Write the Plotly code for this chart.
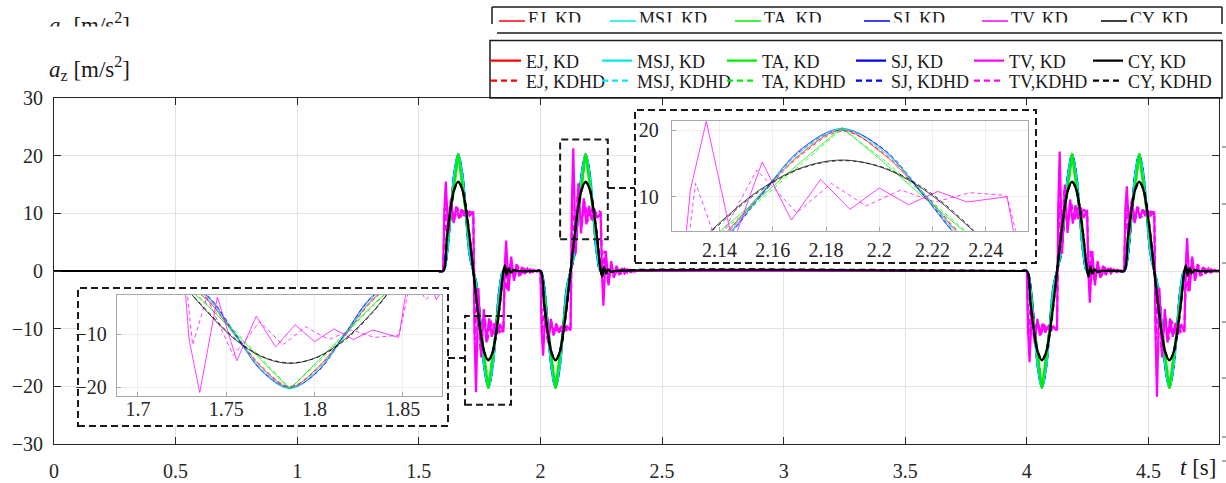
import plotly.graph_objects as go

# ---------------- data ----------------
t_motion = [0, 1.58,
            1.6, 1.6155, 1.631, 1.6465, 1.662, 1.6775, 1.693, 1.7085,
            1.724, 1.7395, 1.755, 1.7705, 1.786, 1.8015, 1.817, 1.8325,
            1.848, 1.868, 1.98,
            2.0, 2.0155, 2.031, 2.0465, 2.062, 2.0775, 2.093, 2.1085,
            2.124, 2.1395, 2.155, 2.1705, 2.186, 2.2015, 2.217, 2.2325,
            2.248, 2.268, 3.98,
            4.0, 4.0155, 4.031, 4.0465, 4.062, 4.0775, 4.093, 4.1085,
            4.124, 4.1395, 4.155, 4.1705, 4.186, 4.2015, 4.217, 4.2325,
            4.248, 4.268, 4.38,
            4.4, 4.4155, 4.431, 4.4465, 4.462, 4.4775, 4.493, 4.5085,
            4.524, 4.5395, 4.555, 4.5705, 4.586, 4.6015, 4.617, 4.6325,
            4.648, 4.668, 4.79]

sj_kd = [0, 0,
         0, 2.9, 10.0, 17.1, 20.2, 17.1, 10.0, 2.9,
         0, -2.9, -10.0, -17.1, -20.2, -17.1, -10.0, -2.9,
         0, 0, 0,
         0, -2.9, -10.0, -17.1, -20.2, -17.1, -10.0, -2.9,
         0, 2.9, 10.0, 17.1, 20.2, 17.1, 10.0, 2.9,
         0, 0, 0,
         0, -2.9, -10.0, -17.1, -20.2, -17.1, -10.0, -2.9,
         0, 2.9, 10.0, 17.1, 20.2, 17.1, 10.0, 2.9,
         0, 0, 0,
         0, 2.9, 10.0, 17.1, 20.2, 17.1, 10.0, 2.9,
         0, -2.9, -10.0, -17.1, -20.2, -17.1, -10.0, -2.9,
         0, 0, 0]
msj_kd = [0, 0,
          0, 3.2, 10.3, 16.8, 20.2, 16.8, 10.3, 3.2,
          0, -3.2, -10.3, -16.8, -20.2, -16.8, -10.3, -3.2,
          0, 0, 0,
          0, -3.2, -10.3, -16.8, -20.2, -16.8, -10.3, -3.2,
          0, 3.2, 10.3, 16.8, 20.2, 16.8, 10.3, 3.2,
          0, 0, 0,
          0, -3.2, -10.3, -16.8, -20.2, -16.8, -10.3, -3.2,
          0, 3.2, 10.3, 16.8, 20.2, 16.8, 10.3, 3.2,
          0, 0, 0,
          0, 3.2, 10.3, 16.8, 20.2, 16.8, 10.3, 3.2,
          0, -3.2, -10.3, -16.8, -20.2, -16.8, -10.3, -3.2,
          0, 0, 0]
ej_kd = [0, 0,
         0, 3.6, 10.2, 16.4, 20.0, 16.4, 10.2, 3.6,
         0, -3.6, -10.2, -16.4, -20.0, -16.4, -10.2, -3.6,
         0, 0, 0,
         0, -3.6, -10.2, -16.4, -20.0, -16.4, -10.2, -3.6,
         0, 3.6, 10.2, 16.4, 20.0, 16.4, 10.2, 3.6,
         0, 0, 0,
         0, -3.6, -10.2, -16.4, -20.0, -16.4, -10.2, -3.6,
         0, 3.6, 10.2, 16.4, 20.0, 16.4, 10.2, 3.6,
         0, 0, 0,
         0, 3.6, 10.2, 16.4, 20.0, 16.4, 10.2, 3.6,
         0, -3.6, -10.2, -16.4, -20.0, -16.4, -10.2, -3.6,
         0, 0, 0]
ta_kd = [0, 0,
         0, 4.6, 9.8, 15.2, 20.4, 15.2, 9.8, 4.6,
         0, -4.6, -9.8, -15.2, -20.4, -15.2, -9.8, -4.6,
         0, 0, 0,
         0, -4.6, -9.8, -15.2, -20.4, -15.2, -9.8, -4.6,
         0, 4.6, 9.8, 15.2, 20.4, 15.2, 9.8, 4.6,
         0, 0, 0,
         0, -4.6, -9.8, -15.2, -20.4, -15.2, -9.8, -4.6,
         0, 4.6, 9.8, 15.2, 20.4, 15.2, 9.8, 4.6,
         0, 0, 0,
         0, 4.6, 9.8, 15.2, 20.4, 15.2, 9.8, 4.6,
         0, -4.6, -9.8, -15.2, -20.4, -15.2, -9.8, -4.6,
         0, 0, 0]

sj_kdhd = [0, 0,
           0, 2.7, 9.8, 16.9, 20.0, 17.2, 10.2, 3.0,
           0, -2.7, -9.8, -16.9, -20.0, -17.2, -10.2, -3.0,
           0, 0, 0,
           0, -2.7, -9.8, -16.9, -20.0, -17.2, -10.2, -3.0,
           0, 2.7, 9.8, 16.9, 20.0, 17.2, 10.2, 3.0,
           0, 0, 0,
           0, -2.7, -9.8, -16.9, -20.0, -17.2, -10.2, -3.0,
           0, 2.7, 9.8, 16.9, 20.0, 17.2, 10.2, 3.0,
           0, 0, 0,
           0, 2.7, 9.8, 16.9, 20.0, 17.2, 10.2, 3.0,
           0, -2.7, -9.8, -16.9, -20.0, -17.2, -10.2, -3.0,
           0, 0, 0]
msj_kdhd = [0, 0,
            0, 3.0, 10.0, 16.6, 20.1, 17.0, 10.5, 3.4,
            0, -3.0, -10.0, -16.6, -20.1, -17.0, -10.5, -3.4,
            0, 0, 0,
            0, -3.0, -10.0, -16.6, -20.1, -17.0, -10.5, -3.4,
            0, 3.0, 10.0, 16.6, 20.1, 17.0, 10.5, 3.4,
            0, 0, 0,
            0, -3.0, -10.0, -16.6, -20.1, -17.0, -10.5, -3.4,
            0, 3.0, 10.0, 16.6, 20.1, 17.0, 10.5, 3.4,
            0, 0, 0,
            0, 3.0, 10.0, 16.6, 20.1, 17.0, 10.5, 3.4,
            0, -3.0, -10.0, -16.6, -20.1, -17.0, -10.5, -3.4,
            0, 0, 0]
ej_kdhd = [0, 0,
           0, 3.4, 10.0, 16.2, 19.8, 16.6, 10.4, 3.8,
           0, -3.4, -10.0, -16.2, -19.8, -16.6, -10.4, -3.8,
           0, 0, 0,
           0, -3.4, -10.0, -16.2, -19.8, -16.6, -10.4, -3.8,
           0, 3.4, 10.0, 16.2, 19.8, 16.6, 10.4, 3.8,
           0, 0, 0,
           0, -3.4, -10.0, -16.2, -19.8, -16.6, -10.4, -3.8,
           0, 3.4, 10.0, 16.2, 19.8, 16.6, 10.4, 3.8,
           0, 0, 0,
           0, 3.4, 10.0, 16.2, 19.8, 16.6, 10.4, 3.8,
           0, -3.4, -10.0, -16.2, -19.8, -16.6, -10.4, -3.8,
           0, 0, 0]
ta_kdhd = [0, 0,
           0, 4.3, 9.4, 14.8, 20.2, 15.6, 10.2, 4.8,
           0, -4.3, -9.4, -14.8, -20.2, -15.6, -10.2, -4.8,
           0, 0, 0,
           0, -4.3, -9.4, -14.8, -20.2, -15.6, -10.2, -4.8,
           0, 4.3, 9.4, 14.8, 20.2, 15.6, 10.2, 4.8,
           0, 0, 0,
           0, -4.3, -9.4, -14.8, -20.2, -15.6, -10.2, -4.8,
           0, 4.3, 9.4, 14.8, 20.2, 15.6, 10.2, 4.8,
           0, 0, 0,
           0, 4.3, 9.4, 14.8, 20.2, 15.6, 10.2, 4.8,
           0, -4.3, -9.4, -14.8, -20.2, -15.6, -10.2, -4.8,
           0, 0, 0]

t_cy = [0, 1.58,
        1.6, 1.6155, 1.631, 1.6465, 1.662, 1.6775, 1.693, 1.7085,
        1.724, 1.7395, 1.755, 1.7705, 1.786, 1.8015, 1.817, 1.8325,
        1.848, 1.854, 1.862, 1.870, 1.879, 1.890, 1.905, 1.98,
        2.0, 2.0155, 2.031, 2.0465, 2.062, 2.0775, 2.093, 2.1085,
        2.124, 2.1395, 2.155, 2.1705, 2.186, 2.2015, 2.217, 2.2325,
        2.248, 2.254, 2.262, 2.270, 2.279, 2.290, 2.305, 3.98,
        4.0, 4.0155, 4.031, 4.0465, 4.062, 4.0775, 4.093, 4.1085,
        4.124, 4.1395, 4.155, 4.1705, 4.186, 4.2015, 4.217, 4.2325,
        4.248, 4.254, 4.262, 4.270, 4.279, 4.290, 4.305, 4.38,
        4.4, 4.4155, 4.431, 4.4465, 4.462, 4.4775, 4.493, 4.5085,
        4.524, 4.5395, 4.555, 4.5705, 4.586, 4.6015, 4.617, 4.6325,
        4.648, 4.654, 4.662, 4.670, 4.679, 4.690, 4.705, 4.79]
cy_kd = [0, 0,
         0, 5.9, 11.0, 14.3, 15.5, 14.3, 11.0, 5.9,
         0, -5.9, -11.0, -14.3, -15.5, -14.3, -11.0, -5.9,
         0, 1.0, -0.6, 0.45, -0.3, 0.15, 0, 0,
         0, -5.9, -11.0, -14.3, -15.5, -14.3, -11.0, -5.9,
         0, 5.9, 11.0, 14.3, 15.5, 14.3, 11.0, 5.9,
         0, -1.0, 0.6, -0.45, 0.3, -0.15, 0, 0,
         0, -5.9, -11.0, -14.3, -15.5, -14.3, -11.0, -5.9,
         0, 5.9, 11.0, 14.3, 15.5, 14.3, 11.0, 5.9,
         0, -1.0, 0.6, -0.45, 0.3, -0.15, 0, 0,
         0, 5.9, 11.0, 14.3, 15.5, 14.3, 11.0, 5.9,
         0, -5.9, -11.0, -14.3, -15.5, -14.3, -11.0, -5.9,
         0, 1.0, -0.6, 0.45, -0.3, 0.15, 0, 0]
cy_kdhd = [0, 0,
           0, 5.7, 10.8, 14.2, 15.4, 14.4, 11.2, 6.1,
           0, -5.7, -10.8, -14.2, -15.4, -14.4, -11.2, -6.1,
           0, 0.7, -0.8, 0.3, -0.4, 0.2, 0, 0,
           0, -5.7, -10.8, -14.2, -15.4, -14.4, -11.2, -6.1,
           0, 5.7, 10.8, 14.2, 15.4, 14.4, 11.2, 6.1,
           0, -0.7, 0.8, -0.3, 0.4, -0.2, 0, 0,
           0, -5.7, -10.8, -14.2, -15.4, -14.4, -11.2, -6.1,
           0, 5.7, 10.8, 14.2, 15.4, 14.4, 11.2, 6.1,
           0, -0.7, 0.8, -0.3, 0.4, -0.2, 0, 0,
           0, 5.7, 10.8, 14.2, 15.4, 14.4, 11.2, 6.1,
           0, -5.7, -10.8, -14.2, -15.4, -14.4, -11.2, -6.1,
           0, 0.7, -0.8, 0.3, -0.4, 0.2, 0, 0]

t_tv_kd = [0,
           1.600, 1.605, 1.611, 1.621, 1.632, 1.643, 1.654, 1.665, 1.676, 1.687, 1.698, 1.709, 1.7235,
           1.724, 1.729, 1.735, 1.745, 1.756, 1.767, 1.778, 1.789, 1.800, 1.811, 1.822, 1.833, 1.8475,
           1.848, 1.853, 1.859, 1.869, 1.880, 1.891, 1.902, 1.913, 1.924, 1.935, 1.946, 1.957, 1.971, 1.985,
           2.000, 2.005, 2.011, 2.021, 2.032, 2.043, 2.054, 2.065, 2.076, 2.087, 2.098, 2.109, 2.1235,
           2.124, 2.129, 2.135, 2.145, 2.156, 2.167, 2.178, 2.189, 2.200, 2.211, 2.222, 2.233, 2.2475,
           2.248, 2.253, 2.259, 2.269, 2.280, 2.291, 2.302, 2.313, 2.324, 2.335, 2.346, 2.357, 2.371, 2.385, 2.400,
           4.000, 4.005, 4.011, 4.021, 4.032, 4.043, 4.054, 4.065, 4.076, 4.087, 4.098, 4.109, 4.1235,
           4.124, 4.129, 4.135, 4.145, 4.156, 4.167, 4.178, 4.189, 4.200, 4.211, 4.222, 4.233, 4.2475,
           4.248, 4.253, 4.259, 4.269, 4.280, 4.291, 4.302, 4.313, 4.324, 4.335, 4.346, 4.357, 4.371, 4.385,
           4.400, 4.405, 4.411, 4.421, 4.432, 4.443, 4.454, 4.465, 4.476, 4.487, 4.498, 4.509, 4.5235,
           4.524, 4.529, 4.535, 4.545, 4.556, 4.567, 4.578, 4.589, 4.600, 4.611, 4.622, 4.633, 4.6475,
           4.648, 4.653, 4.659, 4.669, 4.680, 4.691, 4.702, 4.713, 4.724, 4.735, 4.746, 4.757, 4.771, 4.785, 4.79]
tv_kd = [0,
         0, 10.5, 15.5, 6.5, 12.5, 8.3, 11.2, 9.1, 10.7, 9.5, 10.5, 9.6, 10.3,
         10, -11, -21, -3, -15, -6.6, -12.4, -8.2, -11.4, -9, -11, -9.2, -10.6,
         -10, 0.5, 5.3, -3.5, 2.5, -1.7, 1.2, -0.9, 0.7, -0.5, 0.4, -0.3, 0.2, -0.1,
         0, -10.5, -14.7, -6.5, -12.5, -8.3, -11.2, -9.1, -10.7, -9.5, -10.5, -9.6, -10.3,
         -10, 11, 21.3, 3, 15.2, 6.5, 12.6, 8.1, 11.3, 8.8, 10.8, 9.2, 10,
         10, -0.5, -6.0, 3.5, -2.5, 1.7, -1.2, 0.9, -0.7, 0.5, -0.4, 0.3, -0.2, 0.1, 0,
         0, -10.5, -15.8, -6.5, -12.5, -8.3, -11.2, -9.1, -10.7, -9.5, -10.5, -9.6, -10.3,
         -10, 11, 20.7, 3, 15, 6.6, 12.4, 8.2, 11.4, 9, 11, 9.2, 10.6,
         10, -0.5, -5.5, 3.5, -2.5, 1.7, -1.2, 0.9, -0.7, 0.5, -0.4, 0.3, -0.2, 0.1,
         0, 10.5, 14.7, 6.5, 12.5, 8.3, 11.2, 9.1, 10.7, 9.5, 10.5, 9.6, 10.3,
         10, -11, -21.8, -3, -15, -6.6, -12.4, -8.2, -11.4, -9, -11, -9.2, -10.6,
         -10, 0.5, 5.7, -3.5, 2.5, -1.7, 1.2, -0.9, 0.7, -0.5, 0.4, -0.3, 0.2, -0.1, 0]

t_tv_kdhd = [0,
             1.600, 1.607, 1.615, 1.630, 1.645, 1.658, 1.671, 1.684, 1.697, 1.710, 1.7235,
             1.724, 1.731, 1.739, 1.754, 1.769, 1.782, 1.795, 1.808, 1.821, 1.834, 1.8475,
             1.848, 1.855, 1.863, 1.878, 1.893, 1.906, 1.919, 1.932, 1.945, 1.958, 1.972, 1.986,
             2.000, 2.007, 2.015, 2.030, 2.045, 2.058, 2.071, 2.084, 2.097, 2.110, 2.1235,
             2.124, 2.131, 2.139, 2.154, 2.169, 2.182, 2.195, 2.208, 2.221, 2.234, 2.2475,
             2.248, 2.255, 2.263, 2.278, 2.293, 2.306, 2.319, 2.332, 2.345, 2.358, 2.372, 2.386, 2.400,
             4.000, 4.007, 4.015, 4.030, 4.045, 4.058, 4.071, 4.084, 4.097, 4.110, 4.1235,
             4.124, 4.131, 4.139, 4.154, 4.169, 4.182, 4.195, 4.208, 4.221, 4.234, 4.2475,
             4.248, 4.255, 4.263, 4.278, 4.293, 4.306, 4.319, 4.332, 4.345, 4.358, 4.372, 4.386,
             4.400, 4.407, 4.415, 4.430, 4.445, 4.458, 4.471, 4.484, 4.497, 4.510, 4.5235,
             4.524, 4.531, 4.539, 4.554, 4.569, 4.582, 4.595, 4.608, 4.621, 4.634, 4.6475,
             4.648, 4.655, 4.663, 4.678, 4.693, 4.706, 4.719, 4.732, 4.745, 4.758, 4.772, 4.786, 4.79]
tv_kdhd = [0,
           0, 11, 6.5, 12, 8.8, 11, 9.3, 10.5, 9.6, 10.3, 10.1,
           10, -12, -3, -14, -7.6, -12, -8.6, -11, -9.2, -10.6, -10.2,
           -10, 1, -3.5, 2, -1.2, 1, -0.7, 0.5, -0.4, 0.3, -0.2, 0.1,
           0, -11, -6.5, -12, -8.8, -11, -9.3, -10.5, -9.6, -10.3, -10.1,
           -10, 12, 3, 14, 7.6, 12, 8.6, 11, 9.2, 10.6, 10.2,
           10, -1, 3.5, -2, 1.2, -1, 0.7, -0.5, 0.4, -0.3, 0.2, -0.1, 0,
           0, -11, -6.5, -12, -8.8, -11, -9.3, -10.5, -9.6, -10.3, -10.1,
           -10, 12, 3, 14, 7.6, 12, 8.6, 11, 9.2, 10.6, 10.2,
           10, -1, 3.5, -2, 1.2, -1, 0.7, -0.5, 0.4, -0.3, 0.2, -0.1,
           0, 11, 6.5, 12, 8.8, 11, 9.3, 10.5, 9.6, 10.3, 10.1,
           10, -12, -3, -14, -7.6, -12, -8.6, -11, -9.2, -10.6, -10.2,
           -10, 1, -3.5, 2, -1.2, 1, -0.7, 0.5, -0.4, 0.3, -0.2, 0.1, 0]

x_tickvals = [0, 0.5, 1, 1.5, 2, 2.5, 3, 3.5, 4, 4.5]
x_ticktext = ["0", "0.5", "1", "1.5", "2", "2.5", "3", "3.5", "4", "4.5"]
y_tickvals = [-30, -20, -10, 0, 10, 20, 30]
y_ticktext = ["\u221230", "\u221220", "\u221210", "0", "10", "20", "30"]
ins1_xticks = [1.7, 1.75, 1.8, 1.85]
ins1_xtext = ["1.7", "1.75", "1.8", "1.85"]
ins1_yticks = [-20, -10]
ins1_ytext = ["\u221220", "\u221210"]
ins2_xticks = [2.14, 2.16, 2.18, 2.2, 2.22, 2.24]
ins2_xtext = ["2.14", "2.16", "2.18", "2.2", "2.22", "2.24"]
ins2_yticks = [10, 20]
ins2_ytext = ["10", "20"]

legend_kd = ["EJ, KD", "MSJ, KD", "TA, KD", "SJ, KD", "TV, KD", "CY, KD"]
legend_kdhd = ["EJ, KDHD", "MSJ, KDHD", "TA, KDHD", "SJ, KDHD", "TV,KDHD", "CY, KDHD"]

# ---------------- layout geometry ----------------
W, H = 1226, 483
ML, MR, MT, MB = 54, 7, 98, 39
PW = W - ML - MR
PH = H - MT - MB


def fx(p):
    return (p - ML) / PW


def fy(p):
    return 1 - (p - MT) / PH


SERIF = "Liberation Serif, Times New Roman, DejaVu Serif, serif"
C = dict(EJ="#ff0000", MSJ="#00e8f0", TA="#00ee00", SJ="#0000ff", TV="#ff00ff", CY="#000000")
HD_DASH = "6px,4px"

series = [
    # key, name, legend, dash, t, a, shape, rank, legendwidth
    ("EJ", legend_kd[0], "legend", "solid", t_motion, ej_kd, "spline", 1, 66),
    ("MSJ", legend_kd[1], "legend", "solid", t_motion, msj_kd, "spline", 2, 80),
    ("TA", legend_kd[2], "legend", "solid", t_motion, ta_kd, "linear", 3, 84),
    ("SJ", legend_kd[3], "legend", "solid", t_motion, sj_kd, "spline", 4, 73),
    ("TV", legend_kd[4], "legend", "solid", t_tv_kd, tv_kd, "linear", 5, 74),
    ("CY", legend_kd[5], "legend", "solid", t_cy, cy_kd, "spline", 6, 90),
    ("EJ", legend_kdhd[0], "legend2", HD_DASH, t_motion, ej_kdhd, "spline", 1, 66),
    ("MSJ", legend_kdhd[1], "legend2", HD_DASH, t_motion, msj_kdhd, "spline", 2, 80),
    ("TA", legend_kdhd[2], "legend2", HD_DASH, t_motion, ta_kdhd, "linear", 3, 84),
    ("SJ", legend_kdhd[3], "legend2", HD_DASH, t_motion, sj_kdhd, "spline", 4, 73),
    ("TV", legend_kdhd[4], "legend2", HD_DASH, t_tv_kdhd, tv_kdhd, "linear", 5, 74),
    ("CY", legend_kdhd[5], "legend2", HD_DASH, t_cy, cy_kdhd, "spline", 6, 90),
]
draw_order = [0, 6, 3, 9, 1, 7, 2, 8, 4, 10, 5, 11]

fig = go.Figure()

for i in draw_order:
    key, name, leg, dash, t, a, shape, rank, lw = series[i]
    fig.add_trace(go.Scatter(
        x=t, y=a, mode="lines", name=name, legend=leg, legendrank=rank, legendwidth=lw,
        line=dict(color=C[key], width=2.2, dash=dash, shape=shape),
        xaxis="x", yaxis="y", hoverinfo="skip"))

for ax in ("2", "3"):
    fig.add_trace(go.Scatter(x=[0, 1, 1, 0, 0], y=[0, 0, 1, 1, 0], mode="lines", fill="toself",
                             fillcolor="white", line=dict(width=0, color="white"),
                             xaxis="x" + ax, yaxis="y" + ax, showlegend=False, hoverinfo="skip"))

for ax in ("4", "5"):
    for i in draw_order:
        key, name, leg, dash, t, a, shape, rank, lw = series[i]
        fig.add_trace(go.Scatter(
            x=t, y=a, mode="lines", showlegend=False,
            line=dict(color=C[key], width=1, dash=("solid" if dash == "solid" else "4px,3px"), shape=shape),
            opacity=0.75, xaxis="x" + ax, yaxis="y" + ax, hoverinfo="skip"))

tickfont = dict(family=SERIF, size=20, color="#262626")
main_ax = dict(showline=True, linecolor="#262626", linewidth=1, mirror="ticks", ticks="inside",
               ticklen=7, tickcolor="#262626", showgrid=True, gridcolor="#e2e2e2", gridwidth=1,
               zeroline=False, tickfont=tickfont, automargin=False)
ins_ax = dict(showline=True, linecolor="#a8a8a8", linewidth=1, mirror=True, ticks="inside",
              ticklen=4, tickcolor="#a8a8a8", showgrid=True, gridcolor="#eeeeee", gridwidth=1,
              zeroline=False, tickfont=tickfont, automargin=False)
hidden = dict(visible=False, range=[0, 1], showgrid=False, zeroline=False, fixedrange=True)

ins1_box = (78, 448, 288, 426)
ins2_box = (635, 1036, 110, 263)
ins1_area = (116.7, 441.7, 295, 395.7)
ins2_area = (671.7, 1028.3, 120.7, 230.7)

LEGFONT = dict(family=SERIF, size=18, color="#1a1a1a")
layout = dict(
    width=W, height=H, margin=dict(l=ML, r=MR, t=MT, b=MB, pad=0, autoexpand=False),
    paper_bgcolor="white", plot_bgcolor="white", showlegend=True,
    xaxis=dict(domain=[0, 1], range=[0, 4.79], anchor="y", tickmode="array", tickvals=x_tickvals,
               ticktext=x_ticktext, ticklabelstandoff=9, **main_ax),
    yaxis=dict(domain=[0, 1], range=[-30, 30], anchor="x", tickmode="array", tickvals=y_tickvals,
               ticktext=y_ticktext, ticklabelstandoff=6, **main_ax),
    xaxis2=dict(domain=[fx(ins1_box[0]), fx(ins1_box[1])], anchor="y2", **hidden),
    yaxis2=dict(domain=[fy(ins1_box[3]), fy(ins1_box[2])], anchor="x2", **hidden),
    xaxis3=dict(domain=[fx(ins2_box[0]), fx(ins2_box[1])], anchor="y3", **hidden),
    yaxis3=dict(domain=[fy(ins2_box[3]), fy(ins2_box[2])], anchor="x3", **hidden),
    xaxis4=dict(domain=[fx(ins1_area[0]), fx(ins1_area[1])], anchor="y4", range=[1.688, 1.872],
                tickmode="array", tickvals=ins1_xticks, ticktext=ins1_xtext, ticklabelstandoff=-5, **ins_ax),
    yaxis4=dict(domain=[fy(ins1_area[3]), fy(ins1_area[2])], anchor="x4", range=[-21.6, -2.6],
                tickmode="array", tickvals=ins1_yticks, ticktext=ins1_ytext, ticklabelstandoff=5, **ins_ax),
    xaxis5=dict(domain=[fx(ins2_area[0]), fx(ins2_area[1])], anchor="y5", range=[2.122, 2.256],
                tickmode="array", tickvals=ins2_xticks, ticktext=ins2_xtext, ticklabelstandoff=1, **ins_ax),
    yaxis5=dict(domain=[fy(ins2_area[3]), fy(ins2_area[2])], anchor="x5", range=[4.9, 21.4],
                tickmode="array", tickvals=ins2_yticks, ticktext=ins2_ytext, ticklabelstandoff=8, **ins_ax),
    legend=dict(orientation="h", xref="container", yref="container", x=486 / W, y=1 - 61 / H,
                xanchor="left", yanchor="middle", bgcolor="rgba(0,0,0,0)", borderwidth=0,
                font=LEGFONT, itemwidth=30, traceorder="normal"),
    legend2=dict(orientation="h", xref="container", yref="container", x=486 / W, y=1 - 81 / H,
                 xanchor="left", yanchor="middle", bgcolor="rgba(0,0,0,0)", borderwidth=0,
                 font=LEGFONT, itemwidth=30, traceorder="normal"),
)
fig.update_layout(**layout)

shapes = []


def pline(x0, y0, x1, y1, color="#1a1a1a", width=1.5, dash=None):
    shapes.append(dict(type="line", xref="paper", yref="paper", x0=fx(x0), y0=fy(y0), x1=fx(x1), y1=fy(y1),
                       line=dict(color=color, width=width, dash=dash), layer="above"))


def prect(x0, x1, y0, y1, color="#1a1a1a", width=1.5, dash=None):
    shapes.append(dict(type="rect", xref="paper", yref="paper", x0=fx(x0), x1=fx(x1), y0=fy(y1), y1=fy(y0),
                       line=dict(color=color, width=width, dash=dash), fillcolor="rgba(0,0,0,0)", layer="above"))


BOXDASH = "7px,4px"
prect(*ins1_box, width=2, dash=BOXDASH)
prect(*ins2_box, width=2, dash=BOXDASH)
for (x0, x1, y0, y1) in [(1.69, 1.879, -23.2, -7.8), (2.081, 2.277, 5.5, 22.8)]:
    shapes.append(dict(type="rect", xref="x", yref="y", x0=x0, x1=x1, y0=y0, y1=y1,
                       line=dict(color="#1a1a1a", width=2, dash=BOXDASH), layer="above"))
pline(448, 358, 465, 358, width=2, dash=BOXDASH)
pline(608, 188, 635, 188, width=2, dash=BOXDASH)
prect(490, 1222, 40.5, 98, width=1.5)
pline(492, 7, 1222, 7)
pline(492, 7, 492, 24)
pline(1222, 7, 1222, 24)
pline(497, 33, 1222, 33)
for yy in [147, 204, 263, 322, 378, 437, 461]:
    pline(1222, yy, 1226, yy, color="#555555", width=1)

col_x = [499, 610, 735, 864, 982, 1101]
keys = ["EJ", "MSJ", "TA", "SJ", "TV", "CY"]
for cx, k in zip(col_x, keys):
    pline(cx, 21, cx + 26, 21, color=C[k], width=1.5)
fig.update_layout(shapes=shapes)

ann = []
for cx, name in zip(col_x, legend_kd):
    ann.append(dict(xref="paper", yref="paper", x=fx(cx + 27), y=fy(19), xanchor="left", yanchor="middle",
                    text=name, showarrow=False, font=LEGFONT))
ylabel = "<i>a</i><sub>z</sub> [m/s<sup>2</sup>]"
ann.append(dict(xref="paper", yref="paper", x=fx(89), y=fy(25), xanchor="center", yanchor="middle",
                text=ylabel, showarrow=False, font=dict(family=SERIF, size=23, color="#1a1a1a")))
ann.append(dict(xref="paper", yref="paper", x=fx(857), y=fy(27.5), xanchor="center", yanchor="middle",
                text=" ", showarrow=False, bgcolor="white", width=726, height=8, borderpad=0))
ann.append(dict(xref="paper", yref="paper", x=fx(90), y=fy(35), xanchor="center", yanchor="middle",
                text=" ", showarrow=False, bgcolor="white", width=150, height=16, borderpad=0))
ann.append(dict(xref="paper", yref="paper", x=fx(89), y=fy(68), xanchor="center", yanchor="middle",
                text=ylabel, showarrow=False, font=dict(family=SERIF, size=23, color="#1a1a1a")))
ann.append(dict(xref="paper", yref="paper", x=fx(1198), y=fy(467), xanchor="center", yanchor="middle",
                text="<i>t</i> [s]", showarrow=False, font=dict(family=SERIF, size=23, color="#1a1a1a")))
fig.update_layout(annotations=ann)

fig.write_html("out.html", config={"displayModeBar": False, "staticPlot": True},
               post_script="document.body.style.margin='0';document.body.style.overflow='hidden';")
